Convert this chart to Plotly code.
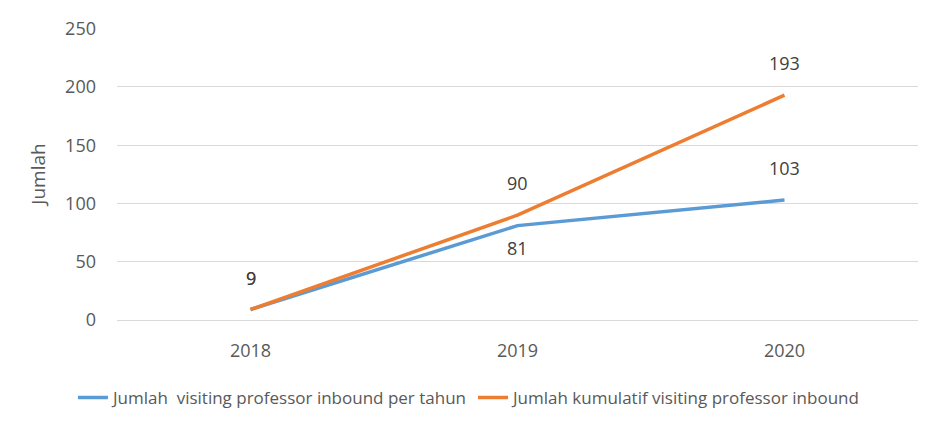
import plotly.graph_objects as go

years = ["2018", "2019", "2020"]
per_tahun = [9, 81, 103]
kumulatif = [9, 90, 193]
# label offset direction per point: 1 = above, -1 = below
per_tahun_side = [1, -1, 1]
kumulatif_side = [1, 1, 1]
y_ticks = [0, 50, 100, 150, 200, 250]

BLUE = "#5B9BD5"
ORANGE = "#ED7D31"
TEXT = "#595959"
LABEL = "#404040"
GRID = "#D9D9D9"
FONT = "Open Sans, Liberation Sans, sans-serif"

fig = go.Figure()
fig.add_trace(
    go.Scatter(
        x=years,
        y=per_tahun,
        mode="lines",
        name="Jumlah  visiting professor inbound per tahun",
        line=dict(color=BLUE, width=3.5),
    )
)
fig.add_trace(
    go.Scatter(
        x=years,
        y=kumulatif,
        mode="lines",
        name="Jumlah kumulatif visiting professor inbound",
        line=dict(color=ORANGE, width=3.5),
    )
)

# value labels; x given as category index since the names look numeric
annotations = []
for vals, sides in [(per_tahun, per_tahun_side), (kumulatif, kumulatif_side)]:
    for i, (v, s) in enumerate(zip(vals, sides)):
        annotations.append(
            dict(
                x=i,
                y=v,
                xref="x",
                yref="y",
                text=str(v),
                showarrow=False,
                yanchor="middle",
                yshift=32 if s > 0 else -22,
                font=dict(size=18, color=LABEL),
            )
        )

# page body has an 8px margin, so the figure is shrunk by that amount
fig.update_layout(
    width=928,
    height=421,
    paper_bgcolor="white",
    plot_bgcolor="white",
    font=dict(family=FONT, color=TEXT, size=17),
    margin=dict(l=109, r=18, t=20, b=109, autoexpand=False),
    annotations=annotations,
    showlegend=True,
    legend=dict(
        orientation="h",
        x=0.44,
        xanchor="center",
        yref="container",
        y=0.074,
        yanchor="middle",
        font=dict(size=17, color=TEXT),
        tracegroupgap=0,
    ),
    xaxis=dict(
        type="category",
        range=[-0.5, 2.5],
        showgrid=False,
        showline=True,
        linecolor=GRID,
        ticks="",
        ticklabelstandoff=14,
        tickfont=dict(size=18, color=TEXT),
    ),
    yaxis=dict(
        range=[0, 250.6],
        tickvals=y_ticks,
        showgrid=True,
        gridcolor=GRID,
        zeroline=False,
        showline=False,
        ticks="",
        ticklabelstandoff=20,
        tickfont=dict(size=18, color=TEXT),
        title=dict(text="Jumlah", font=dict(size=19, color=TEXT), standoff=14),
    ),
)

fig.write_html("out.html")
